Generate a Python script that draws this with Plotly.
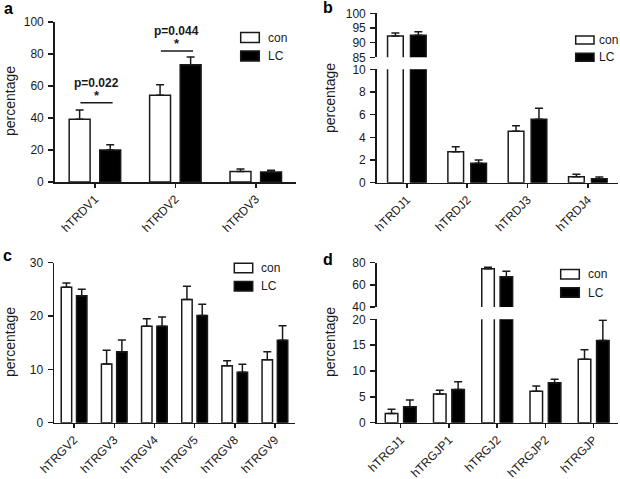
import plotly.graph_objects as go

W, H = 620, 479

# ---------------- data ----------------
cat_a = ["hTRDV1", "hTRDV2", "hTRDV3"]
con_a = [39.2, 54.2, 6.6]
con_a_err = [5.8, 6.6, 1.5]
lc_a = [20.0, 73.3, 6.2]
lc_a_err = [3.3, 4.8, 1.1]

cat_b = ["hTRDJ1", "hTRDJ2", "hTRDJ3", "hTRDJ4"]
con_b = [92.3, 2.73, 4.53, 0.53]
con_b_err = [1.0, 0.45, 0.5, 0.21]
lc_b = [92.5, 1.71, 5.59, 0.35]
lc_b_err = [1.2, 0.3, 0.97, 0.15]

cat_c = ["hTRGV2", "hTRGV3", "hTRGV4", "hTRGV5", "hTRGV8", "hTRGV9"]
con_c = [25.4, 11.0, 18.1, 23.1, 10.7, 11.8]
con_c_err = [0.8, 2.6, 1.4, 2.5, 0.9, 1.5]
lc_c = [23.8, 13.3, 18.1, 20.1, 9.45, 15.45]
lc_c_err = [1.2, 2.2, 1.7, 2.1, 1.5, 2.75]

cat_d = ["hTRGJ1", "hTRGJP1", "hTRGJ2", "hTRGJP2", "hTRGJP"]
con_d = [1.8, 5.55, 74.5, 6.1, 12.25]
con_d_err = [0.8, 0.75, 1.5, 1.0, 1.85]
lc_d = [3.1, 6.4, 67.3, 7.75, 15.9]
lc_d_err = [1.3, 1.5, 5.0, 0.65, 3.9]

sig_a = [(0, "p=0.022", 49.6), (1, "p=0.044", 81.9)]

# ---------------- helpers ----------------
def px(x):
    return x / W

def py(y):
    return 1 - y / H

FONT = "Liberation Sans, Arial, sans-serif"
INK = "#1a1a1a"

fig = go.Figure()

BW = 0.26
OFF = 0.19


def add_pair(cats, con, con_err, lc, lc_err, xa, ya):
    fig.add_trace(go.Bar(
        x=cats, y=con, xaxis=xa, yaxis=ya, name="con", showlegend=False,
        width=BW, offset=-OFF - BW / 2,
        marker=dict(color="white", line=dict(color=INK, width=1.5)),
        error_y=dict(type="data", symmetric=False, array=con_err,
                     arrayminus=[0] * len(con), color=INK, thickness=1.5, width=4),
    ))
    fig.add_trace(go.Bar(
        x=cats, y=lc, xaxis=xa, yaxis=ya, name="LC", showlegend=False,
        width=BW, offset=OFF - BW / 2,
        marker=dict(color="black", line=dict(color=INK, width=1.5)),
        error_y=dict(type="data", symmetric=False, array=lc_err,
                     arrayminus=[0] * len(lc), color=INK, thickness=1.5, width=4),
    ))


add_pair(cat_a, con_a, con_a_err, lc_a, lc_a_err, "x", "y")
add_pair(cat_b, con_b, con_b_err, lc_b, lc_b_err, "x2", "y2")
add_pair(cat_b, con_b, con_b_err, lc_b, lc_b_err, "x3", "y3")
add_pair(cat_c, con_c, con_c_err, lc_c, lc_c_err, "x4", "y4")
add_pair(cat_d, con_d, con_d_err, lc_d, lc_d_err, "x5", "y5")
add_pair(cat_d, con_d, con_d_err, lc_d, lc_d_err, "x6", "y6")

tickfont = dict(family=FONT, size=12, color=INK)


def xaxis(dom, n, anchor, visible=True):
    return dict(
        domain=[px(dom[0]), px(dom[1])], anchor=anchor, type="category",
        range=[-0.5, n - 0.5], visible=visible, automargin=False,
        showline=True, linecolor=INK, linewidth=1.5,
        ticks="outside", ticklen=4, tickwidth=1.5, tickcolor=INK,
        tickangle=-45, tickfont=tickfont, showgrid=False, zeroline=False,
        fixedrange=True,
    )


def yaxis(dom, rng, dtick, anchor):
    return dict(
        domain=[py(dom[1]), py(dom[0])], anchor=anchor, automargin=False,
        range=rng, dtick=dtick, tick0=0,
        showline=True, linecolor=INK, linewidth=1.5,
        ticks="outside", ticklen=5, tickwidth=1.5, tickcolor=INK,
        tickfont=tickfont, showgrid=False, zeroline=False, fixedrange=True,
        ticklabelstandoff=2,
    )


fig.update_layout(
    xaxis=xaxis((54.7, 296), len(cat_a), "y"),
    yaxis=yaxis((22, 182), [0, 100], 20, "x"),
    xaxis2=xaxis((376.7, 618), len(cat_b), "y2"),
    yaxis2=yaxis((69.3, 182.7), [0, 10], 2, "x2"),
    xaxis3=xaxis((376.7, 618), len(cat_b), "y3", visible=False),
    yaxis3=yaxis((13.3, 57.3), [85, 100], 5, "x3"),
    xaxis4=xaxis((54, 295), len(cat_c), "y4"),
    yaxis4=yaxis((262.7, 422.7), [0, 30], 10, "x4"),
    xaxis5=xaxis((376.6, 617.8), len(cat_d), "y5"),
    yaxis5=yaxis((319.3, 422.7), [0, 20], 5, "x5"),
    xaxis6=xaxis((376.6, 617.8), len(cat_d), "y6", visible=False),
    yaxis6=yaxis((262.7, 307), [40, 80], 20, "x6"),
)

shapes = []
annotations = []

# significance markers in panel a
for idx, ptxt, yline in sig_a:
    shapes.append(dict(type="line", xref="x", yref="y", x0=idx - 0.18, x1=idx + 0.22,
                       y0=yline, y1=yline, line=dict(color=INK, width=1.5)))
    annotations.append(dict(xref="x", yref="y", x=idx + 0.02, y=yline + 4.4, text="<b>*</b>",
                            showarrow=False, font=dict(family=FONT, size=13, color=INK)))
    annotations.append(dict(xref="x", yref="y", x=idx + 0.02, y=yline + 12.2, text=f"<b>{ptxt}</b>",
                            showarrow=False, font=dict(family=FONT, size=12, color=INK)))

# legends (drawn per panel)
legend_pos = [  # box x0, x1, con box y center, LC box y center, box height, text x
    (240.7, 259.3, 37.5, 56.0, 10, 265.7),
    (575.7, 594.0, 40.0, 57.2, 8, 597.3),
    (234.3, 252.7, 268.0, 286.3, 9.5, 259.3),
    (560.7, 579.3, 274.2, 292.5, 9.5, 585.7),
]
for bx0, bx1, yc1, yc2, bh, tx in legend_pos:
    for yc, fill, label in ((yc1, "white", "con"), (yc2, "black", "LC")):
        shapes.append(dict(type="rect", xref="paper", yref="paper",
                           x0=px(bx0), x1=px(bx1), y0=py(yc + bh / 2), y1=py(yc - bh / 2),
                           fillcolor=fill, line=dict(color=INK, width=1.5)))
        annotations.append(dict(xref="paper", yref="paper", x=px(tx), y=py(yc), text=label,
                                xanchor="left", yanchor="middle", showarrow=False,
                                font=dict(family=FONT, size=12, color=INK)))

# y titles
for xc, yc in ((10, 101), (330, 98), (10, 342), (330, 342)):
    annotations.append(dict(xref="paper", yref="paper", x=px(xc), y=py(yc), text="percentage",
                            textangle=-90, showarrow=False, xanchor="center", yanchor="middle",
                            font=dict(family=FONT, size=14, color=INK)))

# panel letters
for lx, ly, letter in ((8, 9, "a"), (328, 8, "b"), (7, 256, "c"), (328, 259, "d")):
    annotations.append(dict(xref="paper", yref="paper", x=px(lx), y=py(ly), text=f"<b>{letter}</b>",
                            showarrow=False, xanchor="center", yanchor="middle",
                            font=dict(family=FONT, size=16, color="black")))

fig.update_layout(
    width=W, height=H, margin=dict(l=0, r=0, t=0, b=0, autoexpand=False),
    paper_bgcolor="white", plot_bgcolor="white",
    barmode="overlay", showlegend=False,
    shapes=shapes, annotations=annotations,
    font=dict(family=FONT, color=INK),
)

fig.write_html(
    "out.html",
    config={"displayModeBar": False, "staticPlot": True},
    post_script="document.body.style.margin='0';document.body.style.padding='0';"
                "document.body.style.overflow='hidden';",
)
